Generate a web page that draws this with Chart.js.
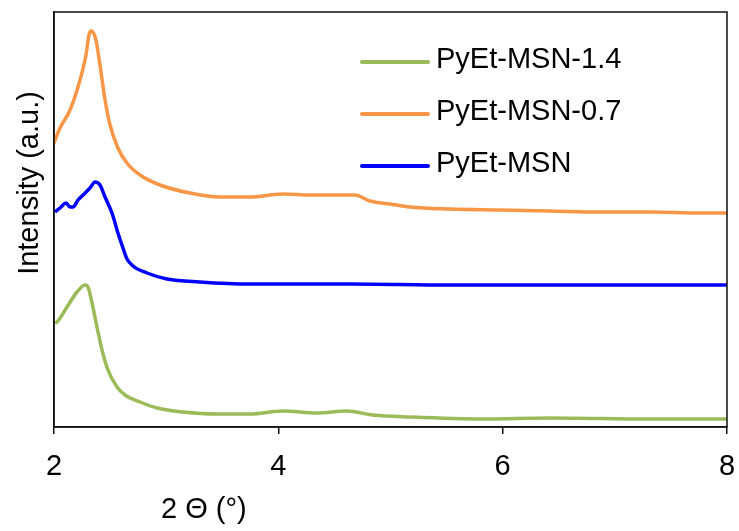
<!DOCTYPE html>
<html>
<head>
<meta charset="utf-8">
<script src="https://cdn.jsdelivr.net/npm/chart.js@4/dist/chart.umd.min.js"></script>
<style>
  html, body { margin: 0; padding: 0; background: #fff; }
  #wrap { width: 739px; height: 531px; }
</style>
</head>
<body>
<div id="wrap"><canvas id="xrd-chart"></canvas></div>
<script>
// 2 theta positions and intensities (arbitrary units)
var msn14X = [2.009, 2.027, 2.116, 2.205, 2.276, 2.303, 2.339, 2.383, 2.428, 2.481, 2.562, 2.633, 2.767, 2.918, 3.15, 3.453, 3.747, 4.04, 4.345, 4.612, 4.844, 5.174, 5.825, 6.42, 7.313, 8.0];
var msn14Y = [104, 105, 120, 135, 142, 140, 124, 100, 77, 57, 40, 32, 25, 19, 15, 13, 13, 16, 14, 16, 12, 10, 8, 9, 8, 8];

var msn07X = [2.0, 2.053, 2.143, 2.232, 2.285, 2.312, 2.33, 2.357, 2.374, 2.41, 2.455, 2.5, 2.57, 2.65, 2.767, 2.945, 3.212, 3.48, 3.747, 4.04, 4.28, 4.505, 4.683, 4.817, 4.995, 5.174, 5.53, 5.976, 6.42, 6.868, 7.313, 7.76, 8.0];
var msn07Y = [284, 299, 317, 347, 372, 392, 396, 393, 387, 362, 327, 302, 279, 264, 252, 242, 234, 230, 230, 233, 232, 232, 232, 226, 223, 220, 218, 217, 216, 215, 215, 214, 214];

var msnX = [2.009, 2.053, 2.107, 2.143, 2.17, 2.214, 2.259, 2.321, 2.366, 2.41, 2.455, 2.517, 2.57, 2.615, 2.651, 2.704, 2.829, 3.007, 3.3, 3.747, 4.64, 5.53, 6.42, 7.313, 8.0];
var msnY = [215, 219, 224, 220, 220, 227, 232, 239, 245, 242, 230, 214, 194, 179, 168, 161, 154, 148, 145, 143, 143, 142, 142, 142, 142];

var seriesNames = ["PyEt-MSN-1.4", "PyEt-MSN-0.7", "PyEt-MSN"];
var seriesColors = ["#9BBB59", "#F79646", "#0000FF"];
var xTicks = [2, 4, 6, 8];

function pts(xs, ys) {
  return xs.map(function (x, i) { return { x: x, y: ys[i] }; });
}

var FONT = "Liberation Sans, Arial, sans-serif";

var frameAndText = {
  id: "frameAndText",
  afterDraw: function (chart) {
    var ctx = chart.ctx, a = chart.chartArea;
    ctx.save();
    // plot frame
    ctx.strokeStyle = "#111";
    ctx.lineWidth = 1.5;
    ctx.strokeRect(a.left, a.top, a.right - a.left, a.bottom - a.top);

    ctx.fillStyle = "#000";
    ctx.font = "29px " + FONT;
    ctx.textBaseline = "alphabetic";

    // legend inside the plot
    chart.data.datasets.forEach(function (ds, i) {
      var y = 62 + i * 52;
      ctx.strokeStyle = ds.borderColor;
      ctx.lineWidth = 4;
      ctx.lineCap = "round";
      ctx.beginPath();
      ctx.moveTo(362, y);
      ctx.lineTo(428, y);
      ctx.stroke();
      ctx.textAlign = "left";
      ctx.fillText(ds.label, 436, y + 6);
    });

    // x title
    ctx.textAlign = "left";
    ctx.fillText("2 \u0398 (\u00B0)", 161, 518);

    // y title
    ctx.translate(38, 183);
    ctx.rotate(-Math.PI / 2);
    ctx.textAlign = "center";
    ctx.fillText("Intensity (a.u.)", 0, 0);
    ctx.restore();
  }
};

new Chart(document.getElementById("xrd-chart"), {
  type: "line",
  data: {
    datasets: [
      { label: seriesNames[0], data: pts(msn14X, msn14Y), borderColor: seriesColors[0] },
      { label: seriesNames[1], data: pts(msn07X, msn07Y), borderColor: seriesColors[1] },
      { label: seriesNames[2], data: pts(msnX, msnY), borderColor: seriesColors[2] }
    ]
  },
  options: {
    responsive: true,
    maintainAspectRatio: false,
    animation: false,
    layout: { padding: { left: 54, top: 12, right: 12, bottom: 0 } },
    elements: {
      point: { radius: 0 },
      line: { borderWidth: 3.5, cubicInterpolationMode: "monotone", fill: false }
    },
    plugins: {
      legend: { display: false },
      tooltip: { enabled: false }
    },
    scales: {
      x: {
        type: "linear",
        min: 2,
        max: 8,
        afterBuildTicks: function (s) { s.ticks = xTicks.map(function (v) { return { value: v }; }); },
        afterFit: function (s) { s.height = 104; s.paddingLeft = 0; s.paddingRight = 0; },
        border: { display: true, color: "#111", width: 1.5 },
        grid: { drawOnChartArea: false, drawTicks: true, tickLength: 7, color: "#111", lineWidth: 1.5 },
        ticks: { color: "#000", font: { family: FONT, size: 29 }, padding: 16, maxRotation: 0 }
      },
      y: {
        min: 0,
        max: 415,
        afterFit: function (s) { s.width = 0; s.paddingTop = 0; s.paddingBottom = 0; },
        border: { display: true, color: "#111", width: 1.5 },
        grid: { display: false },
        ticks: { display: false }
      }
    }
  },
  plugins: [frameAndText]
});
</script>
</body>
</html>
